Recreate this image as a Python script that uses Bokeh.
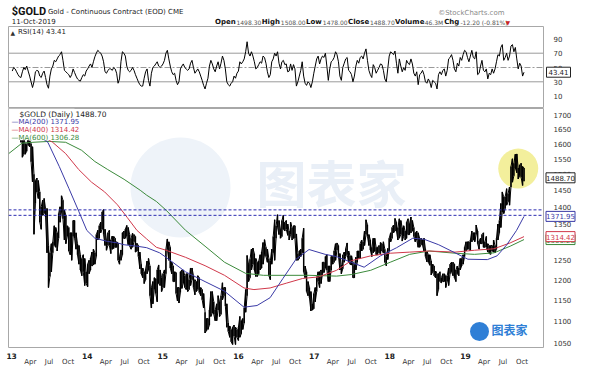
import numpy as np
import pandas as pd
from bokeh.plotting import figure
from bokeh.models import Range1d, FixedTicker, Label, Span, BoxAnnotation
from bokeh.layouts import column
from bokeh.embed import file_html
from bokeh.resources import INLINE
from bokeh.core.properties import value

# ---------------- data (weekly bars) ----------------
week_start = "2013-01-04"

high_2013 = [1695,1680,1695,1695,1680,1683,1652,1615,1620,1600,
             1598,1620,1610,1600,1590,1500,1480,1488,1480,1445,
             1400,1420,1425,1395,1395,1290,1270,1295,1300,1345,
             1340,1325,1380,1400,1433,1420,1390,1375,1345,1340,
             1325,1325,1360,1360,1325,1295,1290,1265,1255,1265,
             1255,1220]
low_2013 = [1626,1645,1660,1655,1652,1660,1605,1555,1565,1565,
            1575,1595,1590,1540,1476,1321,1410,1445,1425,1355,
            1335,1375,1380,1370,1270,1180,1208,1220,1270,1290,
            1285,1275,1310,1355,1385,1365,1305,1295,1315,1275,
            1265,1250,1315,1310,1280,1265,1240,1225,1210,1220,
            1185,1190]
high_2014 = [1240,1250,1256,1272,1280,1270,1320,1332,1345,1355,
             1385,1392,1335,1305,1325,1332,1305,1316,1315,1310,
             1300,1297,1260,1278,1325,1330,1335,1346,1340,1320,
             1310,1324,1320,1315,1296,1290,1272,1240,1230,1220,
             1227,1248,1255,1235,1180,1195,1205,1202,1225,1238,
             1225,1205]
low_2014 = [1182,1215,1225,1235,1238,1240,1260,1305,1310,1325,
            1335,1320,1290,1277,1290,1290,1268,1280,1282,1285,
            1285,1250,1240,1250,1265,1309,1310,1315,1292,1288,
            1280,1285,1300,1272,1275,1260,1228,1215,1205,1190,
            1200,1215,1225,1160,1130,1140,1175,1165,1145,1190,
            1185,1170]
high_2015 = [1215,1225,1280,1308,1300,1285,1245,1235,1220,1218,
             1180,1180,1220,1225,1225,1210,1215,1215,1200,1230,
             1230,1210,1200,1195,1210,1205,1180,1175,1165,1120,
             1105,1105,1125,1170,1170,1145,1125,1140,1160,1145,
             1160,1192,1180,1180,1140,1095,1088,1080,1085,1090,
             1085,1080]
low_2015 = [1180,1180,1215,1280,1250,1230,1215,1195,1195,1165,
            1147,1142,1168,1178,1190,1180,1175,1170,1175,1185,
            1200,1180,1162,1170,1175,1168,1160,1150,1130,1072,
            1077,1080,1090,1110,1118,1115,1100,1100,1125,1110,
            1115,1150,1160,1135,1085,1075,1062,1052,1046,1065,
            1046,1062]
high_2016 = [1085,1110,1100,1105,1130,1175,1263,1240,1253,1280,
             1283,1268,1255,1245,1248,1265,1272,1298,1306,1285,
             1280,1255,1248,1280,1315,1362,1345,1377,1360,1335,
             1360,1375,1355,1360,1350,1330,1355,1340,1345,1345,
             1322,1268,1275,1280,1310,1338,1235,1220,1195,1180,
             1170,1140,1165]
low_2016 = [1055,1062,1070,1080,1095,1120,1160,1195,1205,1225,
            1240,1225,1208,1208,1215,1225,1230,1240,1265,1260,
            1245,1210,1200,1240,1270,1250,1310,1340,1320,1310,
            1315,1335,1330,1335,1318,1305,1320,1305,1310,1310,
            1250,1250,1255,1260,1270,1220,1205,1170,1160,1155,
            1123,1125,1128]
high_2017 = [1180,1205,1220,1220,1225,1245,1245,1260,1265,1235,
             1235,1260,1260,1275,1295,1297,1290,1268,1238,1264,
             1272,1282,1297,1275,1262,1262,1245,1235,1258,1275,
             1275,1295,1305,1300,1330,1362,1348,1320,1305,1285,
             1310,1310,1285,1285,1290,1298,1295,1300,1280,1260,
             1282,1310]
low_2017 = [1145,1170,1195,1180,1190,1215,1218,1230,1225,1195,
            1195,1225,1240,1245,1250,1278,1262,1225,1215,1228,
            1245,1260,1265,1245,1240,1238,1205,1205,1225,1245,
            1255,1255,1275,1280,1290,1320,1315,1290,1278,1260,
            1270,1275,1265,1265,1270,1268,1275,1270,1245,1236,
            1252,1275]
high_2018 = [1325,1340,1347,1366,1355,1340,1365,1360,1340,1345,
             1330,1355,1365,1350,1370,1360,1340,1325,1330,1325,
             1310,1310,1305,1310,1280,1275,1265,1265,1248,1240,
             1235,1222,1215,1215,1220,1205,1215,1215,1210,1210,
             1230,1240,1245,1245,1240,1225,1235,1230,1255,1255,
             1265,1285]
low_2018 = [1300,1310,1325,1330,1330,1305,1310,1320,1302,1315,
            1305,1310,1320,1320,1325,1330,1315,1300,1305,1285,
            1285,1292,1290,1275,1260,1246,1245,1237,1212,1220,
            1210,1205,1160,1175,1195,1192,1195,1195,1180,1195,
            1185,1215,1220,1210,1205,1195,1215,1210,1225,1235,
            1240,1260]
high_2019 = [1300,1300,1300,1305,1330,1325,1325,1347,1330,1302,
             1310,1320,1325,1300,1315,1295,1290,1290,1290,1305,
             1290,1310,1350,1360,1410,1445,1430,1430,1455,1440,
             1460,1525,1550,1535,1565,1566,1520,1530,1535,1525,
             1520]
low_2019 = [1275,1280,1280,1275,1300,1305,1300,1320,1295,1280,
            1295,1295,1285,1285,1285,1272,1268,1266,1275,1272,
            1270,1280,1305,1325,1340,1385,1380,1395,1405,1415,
            1405,1460,1475,1495,1520,1505,1485,1495,1490,1465,
            1478]

rsi_2013 = [45,50,48,44,40,37,36,44,50,47,
            52,45,38,30,22,30,44,46,45,38,
            36,42,45,36,26,21,38,48,52,60,
            58,62,66,68,72,60,46,44,42,40,
            36,40,48,43,38,34,32,31,36,40,
            38,45]
rsi_2014 = [48,52,55,50,58,65,70,74,72,70,
            66,58,44,42,46,48,48,46,50,48,
            42,28,34,58,72,70,66,52,46,44,
            46,50,46,40,35,30,26,24,24,35,
            44,48,32,24,42,50,52,55,58,52,
            50,52]
rsi_2015 = [55,60,70,74,62,52,44,40,42,32,
            26,30,48,52,55,50,48,46,48,56,
            60,50,42,45,48,44,38,32,25,20,
            28,35,52,60,55,48,44,52,58,48,
            56,66,60,48,30,26,24,28,30,38,
            35,42]
rsi_2016 = [45,58,55,58,62,72,86,70,66,72,
            66,58,48,50,54,58,56,66,64,56,
            44,36,40,58,62,70,66,72,56,48,
            58,60,54,55,44,45,55,46,54,48,
            24,30,38,46,58,38,28,25,30,28,
            22,30,42]
rsi_2017 = [52,62,66,55,62,66,64,70,52,32,
            48,58,60,64,72,68,58,38,32,50,
            56,62,64,46,44,40,30,38,52,60,
            56,64,66,62,70,76,60,46,40,36,
            54,50,42,46,50,55,54,46,34,30,
            48,66]
rsi_2018 = [72,70,68,73,56,42,62,52,44,50,
            46,60,56,54,62,55,42,38,44,26,
            40,42,46,40,30,28,34,30,22,32,
            30,28,20,40,44,40,46,48,38,46,
            62,64,68,60,48,44,56,52,64,60,
            68,74]
rsi_2019 = [72,64,58,66,74,64,62,72,40,42,
            52,60,46,44,48,34,42,40,48,42,
            48,58,68,66,78,82,60,64,70,60,
            66,80,82,72,78,62,48,56,52,38,
            43.41]

ma200_dates = ["2012-12-18","2013-04-15","2013-06-25","2013-08-19","2013-10-05","2013-11-21","2013-12-30",
               "2014-02-07","2014-04-10","2014-05-27","2014-06-28","2014-08-29","2014-10-15","2014-12-17",
               "2015-01-17","2015-04-21","2015-07-24","2015-10-26","2016-01-28","2016-03-31","2016-06-02",
               "2016-08-03","2016-10-05","2016-12-07","2017-02-23","2017-04-19","2017-06-29","2017-08-30",
               "2017-11-17","2018-02-03","2018-04-22","2018-06-16","2018-08-25","2018-11-12","2019-01-13",
               "2019-04-17","2019-06-03","2019-07-20","2019-09-05","2019-10-11"]
ma200_vals = [1668,1640,1605,1525,1455,1387,1332,1310,1301,1297,1292,1288,1284,1270,
              1258,1220,1195,1171,1132,1136,1155,1203,1253,1279,1266,1260,1245,1232,
              1262,1284,1310,1307,1292,1270,1253,1252,1262,1292,1332,1371.95]

ma400_dates = ["2012-12-18","2013-04-15","2013-07-18","2013-09-19","2013-11-21","2014-01-22","2014-03-26",
               "2014-05-27","2014-07-13","2014-08-29","2014-10-15","2014-12-01","2015-01-17","2015-04-21",
               "2015-07-24","2015-10-26","2016-01-28","2016-03-16","2016-06-02","2016-08-19","2016-11-06",
               "2017-01-23","2017-04-19","2017-06-29","2017-10-01","2018-01-03","2018-04-07","2018-07-10",
               "2018-11-12","2019-02-14","2019-05-19","2019-08-05","2019-10-11"]
ma400_vals = [1662,1645,1605,1567,1515,1475,1445,1406,1369,1332,1308,1285,1277,1258,
              1236,1211,1179,1175,1179,1191,1203,1207,1224,1249,1262,1269,1272,1275,
              1272,1277,1281,1297,1314.42]

ma600_dates = ["2012-12-18","2013-02-20","2013-04-14","2013-07-02","2013-09-19","2013-12-05","2014-02-07",
               "2014-04-10","2014-06-28","2014-09-14","2014-10-15","2014-12-01","2015-01-17","2015-04-21",
               "2015-07-24","2015-10-26","2016-02-05","2016-05-01","2016-08-03","2016-12-07","2017-04-19",
               "2017-06-29","2017-10-01","2018-01-03","2018-04-07","2018-07-10","2018-11-12","2019-02-14",
               "2019-05-19","2019-08-05","2019-10-11"]
ma600_vals = [1567,1602,1605,1608,1605,1578,1541,1515,1484,1450,1435,1416,1390,1332,
              1288,1245,1216,1211,1211,1211,1209,1213,1224,1245,1266,1275,1269,1266,
              1270,1288,1306.28]

resistance_levels = [1391, 1375]
price_ticks = [1050,1100,1150,1200,1250,1300,1350,1400,1450,1500,1550,1600,1650,1700]
rsi_ticks = [10,30,50,70,90]
month_names = {4: "Apr", 7: "Jul", 10: "Oct"}
years = [2013,2014,2015,2016,2017,2018,2019]
quote_fields = ["Open", "High", "Low", "Close", "Volume", "Chg"]
quote_values = ["1498.30", "1508.00", "1478.00", "1488.70", "46.3M", "-12.20 (-0.81%)"]
last_close = 1488.70
last_rsi = 43.41
highlight_date, highlight_price = "2019-09-13", 1518

# ---------------- assemble ----------------
highs = high_2013 + high_2014 + high_2015 + high_2016 + high_2017 + high_2018 + high_2019
lows = low_2013 + low_2014 + low_2015 + low_2016 + low_2017 + low_2018 + low_2019
rsi = rsi_2013 + rsi_2014 + rsi_2015 + rsi_2016 + rsi_2017 + rsi_2018 + rsi_2019
n = len(highs)
if not (len(lows) == n and len(rsi) == n):
    raise SystemExit("length mismatch %d %d %d" % (n, len(lows), len(rsi)))

def ms(d):
    return pd.Timestamp(d).value / 1e6

dates = pd.date_range(week_start, periods=n, freq="W-FRI")
xs = [d.value / 1e6 for d in dates]

zx, zy = [], []
for i in range(n):
    a, b = (lows[i], highs[i]) if i % 2 == 0 else (highs[i], lows[i])
    zx += [xs[i], xs[i]]
    zy += [a, b]

# ---------------- geometry ----------------
W = 584
H_HEAD, H_RSI, H_MAIN = 26, 82, 261
BL, BR = 8, 41
FW = W - BL - BR
MAIN_BOT = 22
X0, X1 = ms("2012-12-17"), ms("2020-01-13")
R0, R1 = -7.3, 107.3
P0, P1 = 1039.4, 1724.0
MAIN_FH = H_MAIN - MAIN_BOT

def px_x(px):
    return X0 + (px - BL) / FW * (X1 - X0)

def rsi_y(py):  # py measured from top of RSI frame
    return R0 + (H_RSI - py) / H_RSI * (R1 - R0)

def main_y(py):  # py measured from top of main frame
    return float(np.exp(np.log(P0) + (MAIN_FH - py) / MAIN_FH * np.log(P1 / P0)))

FONT = "DejaVu Sans"

def lab(fig, x, y, text, size="7px", color="#222222", bold=False, align="left",
        font=FONT, **kw):
    l = Label(x=x, y=y, text=text, text_font=font, text_font_size=size, text_color=color,
              text_font_style="bold" if bold else "normal", text_align=align,
              text_baseline="middle", **kw)
    fig.add_layout(l)
    return l

def style_right_axis(ax):
    ax.major_tick_line_color = None
    ax.minor_tick_line_color = None
    ax.axis_line_color = None
    ax.major_label_standoff = 4
    ax.major_label_text_font = FONT
    ax.major_label_text_font_size = "7px"
    ax.major_label_text_color = "#333333"

def value_box(fig, x_px, y, txt, color, w):
    fig.rect([px_x(x_px)], [y], width=w, height=10, width_units="screen", height_units="screen",
             fill_color="white", line_color=color, line_width=1, level="overlay")
    fig.text([px_x(x_px)], [y], text=[txt], text_font=value(FONT), text_font_size="7px",
             text_color=color, text_align="center", text_baseline="middle", level="overlay")

# approximate DejaVu Sans advance widths (em) for laying out the quote line
W_BOLD = {"O": .850, "p": .716, "e": .678, "n": .712, "H": .837, "i": .343, "g": .716, "h": .712,
          "L": .637, "o": .687, "w": .924, "C": .734, "l": .343, "s": .595, "V": .774, "u": .712,
          "m": 1.042}
W_REG = {"0": .636, "1": .636, "2": .636, "3": .636, "4": .636, "5": .636, "6": .636, "7": .636,
         "8": .636, "9": .636, ".": .318, " ": .318, "-": .361, "(": .390, ")": .390, "%": .950,
         "M": .863}

def text_w(s, table, size):
    return sum(table.get(c, .65) for c in s) * size

xr = Range1d(X0, X1)

# ---------------- header strip ----------------
ph = figure(width=W, height=H_HEAD, x_range=Range1d(0, W), y_range=Range1d(H_HEAD, 0), title=None,
            x_axis_location=None, y_axis_location=None, output_backend="svg", toolbar_location=None,
            min_border_left=0, min_border_right=0, min_border_top=0, min_border_bottom=0)
ph.outline_line_color = None
ph.xgrid.visible = False
ph.ygrid.visible = False
lab(ph, 3.5, 11, "$GOLD", size="11px", bold=True, color="#111111", font="Roboto")
lab(ph, 43, 11.5, "Gold - Continuous Contract (EOD) CME", size="7px")
lab(ph, 541.5, 12.5, "\u00a9StockCharts.com", size="7px", color="#8a8a8a", align="right")
lab(ph, 3.5, 21.5, "11-Oct-2019", size="7px")

B_SIZE, V_SIZE = 7.0, 6.0
x_left, x_right = 225.5, 540.5
pieces = []
for f, v in zip(quote_fields, quote_values):
    pieces.append((f, True, text_w(f, W_BOLD, B_SIZE)))
    pieces.append((v, False, text_w(v, W_REG, V_SIZE)))
total = sum(p[2] for p in pieces)
gap = (x_right - x_left - total) / (len(pieces) - 1)
xcur = x_left
for t, b, w in pieces:
    if b:
        lab(ph, xcur, 21.5, t, size="%gpx" % B_SIZE, bold=True, color="#111111")
    else:
        lab(ph, xcur, 21.7, t, size="%gpx" % V_SIZE, color="#555555")
    xcur += w + gap
lab(ph, 542.5, 21.5, "\u25bc", size="6px", color="#cc2222")

# ---------------- RSI panel ----------------
p1 = figure(width=W, height=H_RSI, x_range=xr, y_range=Range1d(R0, R1), title=None,
            x_axis_type="datetime", x_axis_location=None, y_axis_location="right",
            output_backend="svg", toolbar_location=None,
            min_border_left=BL, min_border_right=BR, min_border_top=0, min_border_bottom=0)
p1.outline_line_color = "#a8a8a8"
p1.xgrid.visible = False
p1.ygrid.visible = False
p1.yaxis.ticker = FixedTicker(ticks=rsi_ticks)
style_right_axis(p1.yaxis)

for lv in (70, 30):
    p1.add_layout(Span(location=lv, dimension="width", line_color="#9a9a9a", line_width=1, level="underlay"))
p1.add_layout(Span(location=50, dimension="width", line_color="#9a9a9a", line_width=1,
                   line_dash="6 2 2 2", level="underlay"))
p1.line(xs, rsi, line_color="black", line_width=1)
lab(p1, px_x(10), rsi_y(5.5), "\u25b2", size="6px", color="#333333")
lab(p1, px_x(17.5), rsi_y(5.5), "RSI(14) 43.41", size="7px")
value_box(p1, 558, last_rsi, "%.2f" % last_rsi, "#222222", 24)

# ---------------- main panel ----------------
p2 = figure(width=W, height=H_MAIN, x_range=xr, y_range=Range1d(P0, P1), title=None,
            x_axis_type="datetime", y_axis_type="log", y_axis_location="right",
            output_backend="svg", toolbar_location=None,
            min_border_left=BL, min_border_right=BR, min_border_top=0, min_border_bottom=MAIN_BOT)
p2.outline_line_color = "#a8a8a8"
p2.xgrid.visible = False
p2.ygrid.visible = False

p2.yaxis.ticker = FixedTicker(ticks=price_ticks)
p2.yaxis.major_label_overrides = {float(t): str(t) for t in price_ticks}
style_right_axis(p2.yaxis)

month_ticks, month_over = [], {}
for y in years:
    for m, nm in month_names.items():
        t = ms("%d-%02d-01" % (y, m))
        month_ticks.append(t)
        month_over[t] = nm
p2.xaxis.ticker = FixedTicker(ticks=month_ticks)
p2.xaxis.major_label_overrides = month_over
p2.xaxis.major_tick_line_color = None
p2.xaxis.minor_tick_line_color = None
p2.xaxis.axis_line_color = None
p2.xaxis.major_label_standoff = 4
p2.xaxis.major_label_text_font = FONT
p2.xaxis.major_label_text_font_size = "7px"
p2.xaxis.major_label_text_color = "#333333"
p2.text([ms("%d-01-01" % y) for y in years], [main_y(MAIN_FH + 8)] * len(years),
        text=[str(y)[2:] for y in years], text_font=value(FONT), text_font_style="bold",
        text_font_size="7.5px", text_color="#222222", text_align="center", text_baseline="middle",
        level="overlay")

# watermark
p2.scatter([px_x(180)], [main_y(79)], size=100, fill_color="#eef3f9", line_color=None, level="underlay")
lab(p2, px_x(331), main_y(72), "图表家", size="50px", bold=True, color="#e9eff7",
    align="center", font="Noto Sans CJK SC", level="underlay")
p2.scatter([px_x(479)], [main_y(223)], size=19, fill_color="#2f7fd6", line_color=None)
lab(p2, px_x(491), main_y(221), "图表家", size="12px", bold=True, color="#2f7fd6",
    font="Noto Sans CJK SC")

# highlight circle
p2.scatter([ms(highlight_date)], [highlight_price], size=40, fill_color="#f3ef9c", line_color=None)

# price bars
p2.segment(xs, lows, xs, highs, line_color="black", line_width=1.4)
p2.line(zx, zy, line_color="black", line_width=1)

# moving averages
MA_COL = {"200": "#3a3aa6", "400": "#d0384a", "600": "#3b8a3b"}
p2.line([ms(d) for d in ma600_dates], ma600_vals, line_color=MA_COL["600"], line_width=1)
p2.line([ms(d) for d in ma400_dates], ma400_vals, line_color=MA_COL["400"], line_width=1)
p2.line([ms(d) for d in ma200_dates], ma200_vals, line_color=MA_COL["200"], line_width=1)

for lv in resistance_levels:
    p2.add_layout(Span(location=lv, dimension="width", line_color="#2b2bb0", line_width=1, line_dash="3 2"))

# legend block
p2.add_layout(BoxAnnotation(left=X0, right=px_x(74), bottom=1612, top=P1,
                            fill_color="white", fill_alpha=1.0, line_color=None))
lab(p2, px_x(19), main_y(5.5), "$GOLD (Daily) 1488.70", size="7.5px", color="#222222")
lab(p2, px_x(11), main_y(13.5), "\u2014MA(200) 1371.95", size="7px", color=MA_COL["200"])
lab(p2, px_x(11), main_y(21.5), "\u2014MA(400) 1314.42", size="7px", color=MA_COL["400"])
lab(p2, px_x(11), main_y(29.5), "\u2014MA(600) 1306.28", size="7px", color=MA_COL["600"])

# right value boxes
value_box(p2, 560, ma600_vals[-1], "%.2f" % ma600_vals[-1], MA_COL["600"], 29)
value_box(p2, 560, ma400_vals[-1], "%.2f" % ma400_vals[-1], MA_COL["400"], 29)
value_box(p2, 560, ma200_vals[-1], "%.2f" % ma200_vals[-1], MA_COL["200"], 29)
value_box(p2, 560, last_close, "%.2f" % last_close, "#222222", 29)

layout = column(ph, p1, p2, spacing=0)
open("out.html", "w").write(file_html(layout, INLINE))
